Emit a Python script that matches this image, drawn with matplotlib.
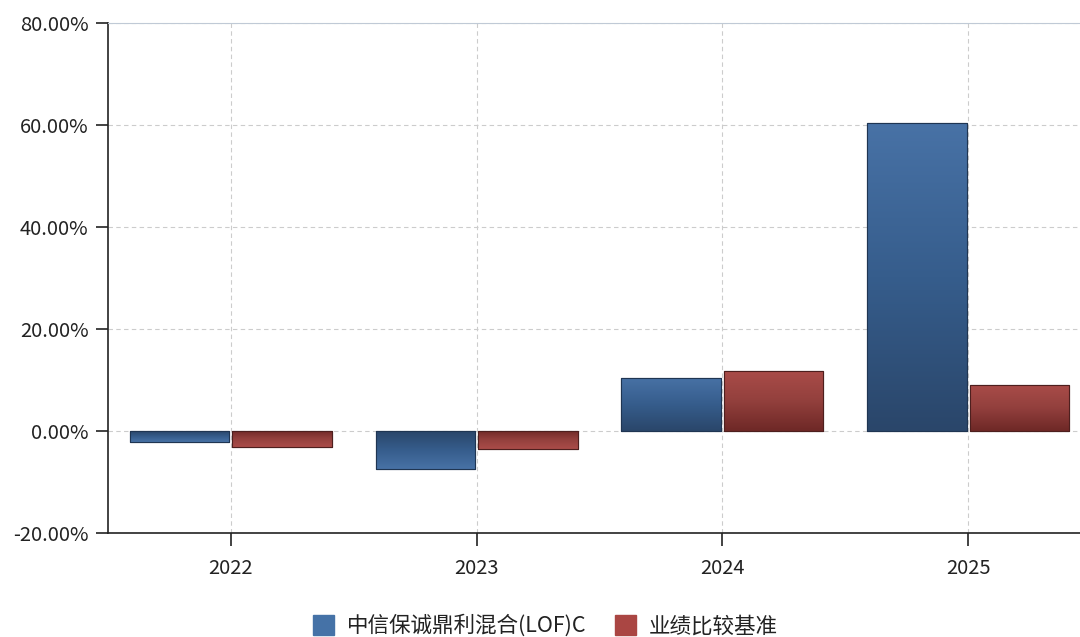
import numpy as np
import matplotlib
matplotlib.use('Agg')
import matplotlib.pyplot as plt
from matplotlib.colors import LinearSegmentedColormap
from matplotlib.patches import Patch

plt.rcParams['font.family'] = ['Noto Sans CJK SC', 'DejaVu Sans']

years = ['2022', '2023', '2024', '2025']
fund = [-2.1, -7.4, 10.4, 60.3]
bench = [-3.2, -3.6, 11.8, 9.1]
series_names = ['中信保诚鼎利混合(LOF)C', '业绩比较基准']

blue = '#4572A7'
red = '#AA4643'

fig = plt.figure(figsize=(10.8, 6.37), dpi=100)
ax = fig.add_axes([108 / 1080, 1 - 533 / 637, 983 / 1080, 510 / 637])

x = np.arange(len(years))
w = 0.405
gap = 0.006
b1 = ax.bar(x - w / 2 - gap, fund, w, color=blue, edgecolor='#1f3552', linewidth=0.8, zorder=3)
b2 = ax.bar(x + w / 2 + gap, bench, w, color=red, edgecolor='#4d1f1e', linewidth=0.8, zorder=3)

# gradient shading clipped to each bar
cm_blue = LinearSegmentedColormap.from_list('b', ['#2a466a', '#365d8c', '#4872a6'])
cm_red = LinearSegmentedColormap.from_list('r', ['#6e2826', '#93403d', '#aa4c49'])
grad = np.linspace(0, 1, 256).reshape(-1, 1)
for bars, cm in ((b1, cm_blue), (b2, cm_red)):
    for p in bars:
        x0, y0 = p.get_x(), p.get_y()
        h = p.get_height()
        g = grad.copy()
        if h >= 0:
            ext = (x0, x0 + p.get_width(), y0, y0 + h)
        else:
            ext = (x0, x0 + p.get_width(), y0 + h, y0)
            g = g[::-1]
        im = ax.imshow(g, cmap=cm, extent=ext, origin='lower', aspect='auto', zorder=3.5)
        im.set_clip_path(p)
        ax.add_patch(plt.Rectangle((x0, y0), p.get_width(), h, fill=False,
                                   edgecolor=p.get_edgecolor(), linewidth=0.8, zorder=4))

ax.set_xlim(-0.5, 3.5)
ax.set_ylim(-20, 80)
ax.set_xticks(x)
ax.set_xticklabels(years)
ax.set_yticks(np.arange(-20, 81, 20))
ax.set_yticklabels([f'{v:.2f}%' for v in np.arange(-20, 81, 20)])

ax.grid(True, linestyle=(0, (4, 3)), color='#cccccc', linewidth=0.8, zorder=0)
ax.set_axisbelow(True)
for s in ('left', 'bottom'):
    ax.spines[s].set_color('#222222')
    ax.spines[s].set_linewidth(1.2)
ax.spines['top'].set_color('#c0cad6')
ax.spines['right'].set_visible(False)
ax.tick_params(axis='both', labelsize=14.5, colors='#222222', length=9, width=1.2, pad=5)
ax.tick_params(axis='x', pad=9)

handles = [Patch(facecolor=blue, edgecolor=blue), Patch(facecolor=red, edgecolor=red)]
fig.legend(handles, series_names, loc='center', bbox_to_anchor=(0.505, 1 - 626 / 637), ncol=2,
           frameon=False, fontsize=15.5, handlelength=1.0, handleheight=1.0,
           handletextpad=0.6, columnspacing=1.3, labelcolor='#222222')

fig.savefig('out.png', dpi=100)
